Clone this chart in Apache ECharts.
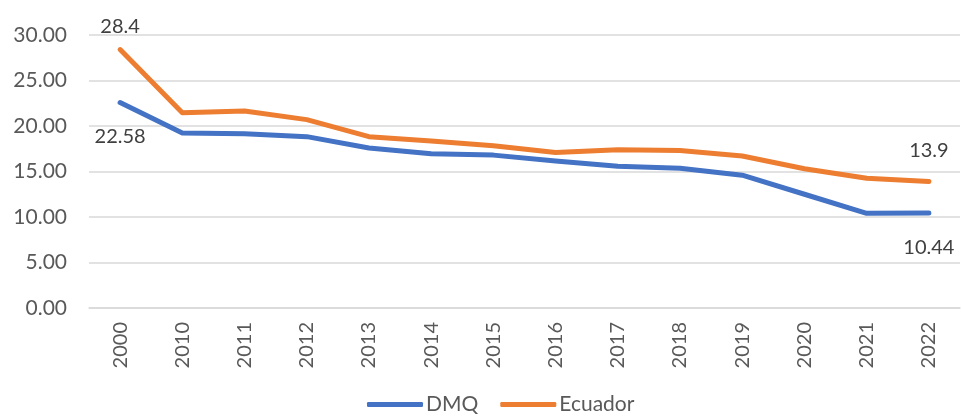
<!DOCTYPE html>
<html>
<head>
<meta charset="utf-8">
<script src="https://cdn.jsdelivr.net/npm/echarts@6/dist/echarts.min.js"></script>
<style>
  html, body { margin: 0; padding: 0; background: #fff; }
  #chart { width: 962px; height: 419px; }
</style>
</head>
<body>
<div id="chart"></div>
<script>
// Years on the category axis
const years = ['2000', '2010', '2011', '2012', '2013', '2014', '2015', '2016', '2017', '2018', '2019', '2020', '2021', '2022'];
// Series values
const dmq = [22.58, 19.23, 19.16, 18.83, 17.58, 16.96, 16.8, 16.15, 15.57, 15.35, 14.6, 12.5, 10.4, 10.44];
const ecuador = [28.4, 21.46, 21.65, 20.7, 18.83, 18.35, 17.84, 17.1, 17.4, 17.3, 16.7, 15.3, 14.25, 13.9];
// Points whose values are written next to them: index -> [position, distance]
const dmqLabelled = { 0: ['bottom', 24], 13: ['bottom', 25] };
const ecuadorLabelled = { 0: ['top', 13], 13: ['top', 21] };

const FONT = 'Lato, "Open Sans", sans-serif';

function withLabels(values, labelled) {
  return values.map((v, i) => {
    if (labelled[i] === undefined) return v;
    return {
      value: v,
      label: {
        show: true,
        position: labelled[i][0],
        distance: labelled[i][1],
        formatter: String(v),
        fontFamily: FONT,
        fontSize: 20,
        color: '#404040'
      }
    };
  });
}

const chart = echarts.init(document.getElementById('chart'), null, { renderer: 'canvas' });
chart.setOption({
  animation: false,
  grid: { left: 89, right: 2, top: 35, bottom: 111, containLabel: false },
  legend: {
    bottom: -1,
    left: 362,
    itemWidth: 56,
    itemHeight: 5,
    itemGap: 22,
    icon: 'roundRect',
    textStyle: { fontFamily: FONT, fontSize: 21, color: '#595959', padding: [0, 0, 0, -2] },
    data: ['DMQ', 'Ecuador']
  },
  xAxis: {
    type: 'category',
    data: years,
    boundaryGap: true,
    axisLine: { show: true, lineStyle: { color: '#d9d9d9', width: 1.5 } },
    axisTick: { show: false },
    axisLabel: { rotate: 90, margin: 14, fontFamily: FONT, fontSize: 20, color: '#595959' }
  },
  yAxis: {
    type: 'value',
    min: 0,
    max: 30,
    interval: 5,
    axisLine: { show: false },
    axisTick: { show: false },
    splitLine: { lineStyle: { color: '#d9d9d9', width: 1.5 } },
    axisLabel: {
      margin: 22,
      fontFamily: FONT,
      fontSize: 21,
      color: '#595959',
      formatter: v => v.toFixed(2)
    }
  },
  series: [
    {
      name: 'DMQ',
      type: 'line',
      data: withLabels(dmq, dmqLabelled),
      symbol: 'circle',
      symbolSize: 0,
      showAllSymbol: true,
      lineStyle: { color: '#4472C4', width: 5, cap: 'round', join: 'round' },
      itemStyle: { color: '#4472C4' }
    },
    {
      name: 'Ecuador',
      type: 'line',
      data: withLabels(ecuador, ecuadorLabelled),
      symbol: 'circle',
      symbolSize: 0,
      showAllSymbol: true,
      lineStyle: { color: '#ED7D31', width: 5, cap: 'round', join: 'round' },
      itemStyle: { color: '#ED7D31' }
    }
  ]
});
</script>
</body>
</html>
